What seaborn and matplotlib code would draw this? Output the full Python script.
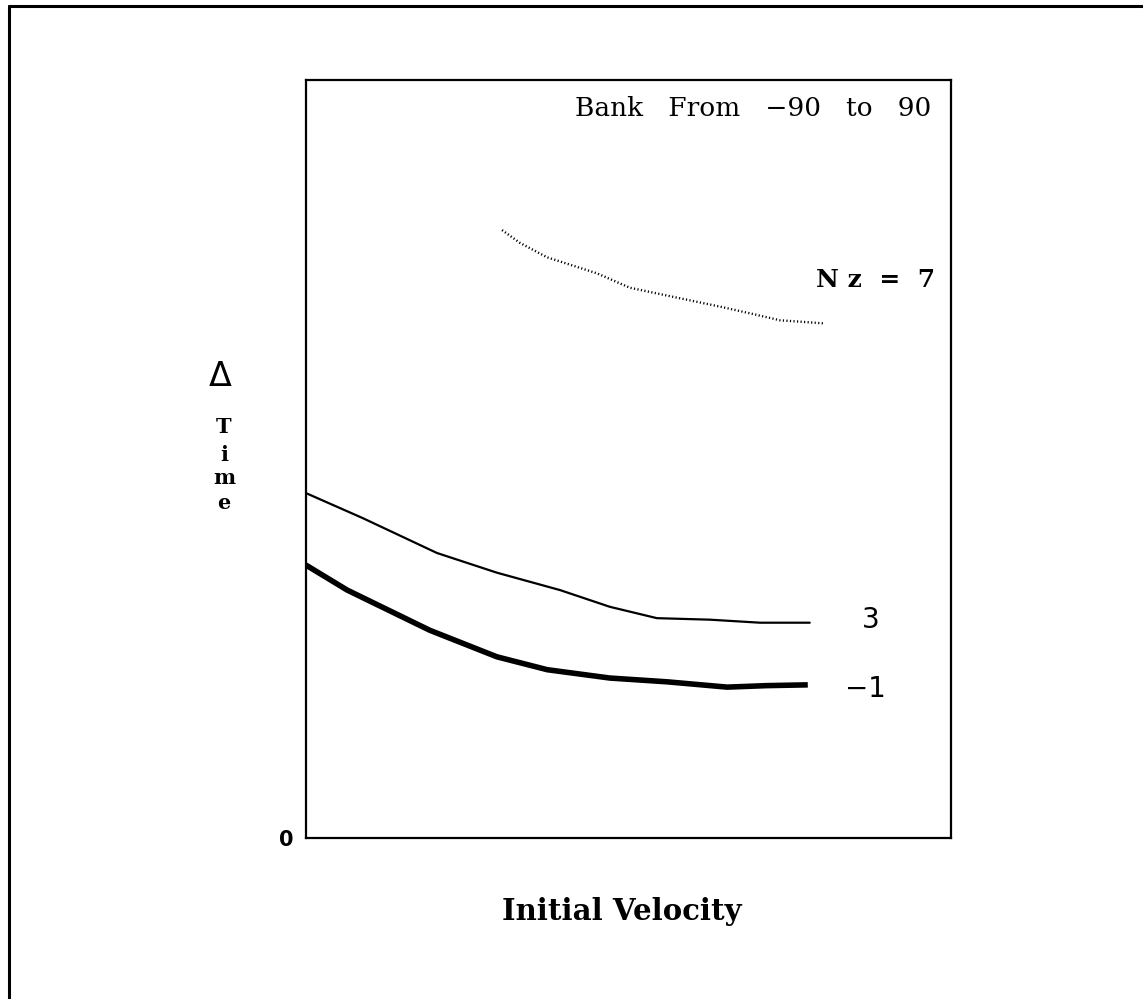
import matplotlib
matplotlib.use("Agg")
import matplotlib.pyplot as plt
from matplotlib.lines import Line2D
import pandas as pd
import seaborn as sns

# Delta-time vs. initial velocity for three normal-load factors (Nz)
vel_nz7 = [30.4, 33.2, 37.4, 45.1, 50.2, 58.0, 64.2, 68.4, 73.5, 80.2]
dt_nz7 = [80.2, 78.5, 76.6, 74.5, 72.6, 71.2, 70.1, 69.3, 68.3, 67.9]

vel_nz3 = [0.0, 8.8, 20.3, 29.6, 39.4, 47.1, 54.4, 62.6, 70.4, 78.1]
dt_nz3 = [45.5, 42.2, 37.6, 35.0, 32.7, 30.5, 29.0, 28.8, 28.4, 28.4]

vel_nzm1 = [0.0, 6.4, 19.2, 29.6, 37.4, 47.1, 56.0, 65.3, 71.5, 77.8]
dt_nzm1 = [36.0, 32.7, 27.4, 23.9, 22.2, 21.1, 20.6, 19.9, 20.1, 20.2]

series_labels = ["N z  =  7", "3", "\u22121"]

sns.set_style("white")
plt.rcParams["font.family"] = ["DejaVu Serif", "DejaVu Sans"]
plt.rcParams["text.color"] = "black"
plt.rcParams["ytick.color"] = "black"
plt.rcParams["xtick.color"] = "black"

fig = plt.figure(figsize=(11.43, 9.99), dpi=100)
ax = fig.add_axes([0.2677, 0.1612, 0.5643, 0.7587])

df7 = pd.DataFrame({"v": vel_nz7, "t": dt_nz7})
df3 = pd.DataFrame({"v": vel_nz3, "t": dt_nz3})
dfm1 = pd.DataFrame({"v": vel_nzm1, "t": dt_nzm1})

sns.lineplot(data=df7, x="v", y="t", ax=ax, color="black", lw=1.7,
             linestyle=(0, (0.5, 1.0)))
sns.lineplot(data=df3, x="v", y="t", ax=ax, color="black", lw=1.6)
sns.lineplot(data=dfm1, x="v", y="t", ax=ax, color="black", lw=4.0,
             solid_capstyle="butt")

ax.set_xlim(0, 100)
ax.set_ylim(0, 100)
ax.set_xlabel("")
ax.set_ylabel("")
ax.set_xticks([])
ax.set_yticks([0])
ax.set_yticklabels(["0"], fontsize=15, fontweight="bold", family="DejaVu Sans")
ax.tick_params(axis="y", length=0, pad=9)
for sp in ax.spines.values():
    sp.set_visible(True)
    sp.set_color("black")
    sp.set_linewidth(1.6)

W, H = 1143, 999

# Curve labels
ax.text(vel_nz7[-1] + 17.3, 73.6, series_labels[0], fontsize=18,
        fontweight="bold", ha="right", va="center")
ax.text(vel_nz3[-1] + 9.4, dt_nz3[-1] + 0.3, series_labels[1], fontsize=20,
        family="DejaVu Sans", ha="center", va="center")
ax.text(vel_nzm1[-1] + 9.0, dt_nzm1[-1] - 0.6, series_labels[2], fontsize=20,
        family="DejaVu Sans", ha="center", va="center")
ax.text(0.97, 0.963, "Bank   From   \u221290   to   90", transform=ax.transAxes,
        fontsize=19, ha="right", va="center")

# Axis titles
fig.text(502 / W, 1 - 912 / H, "Initial Velocity", fontsize=21,
         fontweight="bold", ha="left", va="center")
fig.text(220 / W, 1 - 376 / H, "\u0394", fontsize=24, family="DejaVu Sans",
         ha="center", va="center")
for ch, ypx in zip("Time", [427, 455, 478, 503]):
    fig.text(224 / W, 1 - ypx / H, ch, fontsize=15, fontweight="bold",
             ha="center", va="center")

# Page frame (top and left edges)
fig.add_artist(Line2D([9 / W, 9 / W], [0, 1 - 6 / H], transform=fig.transFigure,
                      color="black", lw=2.2))
fig.add_artist(Line2D([9 / W, 1], [1 - 6 / H, 1 - 6 / H], transform=fig.transFigure,
                      color="black", lw=2.2))

fig.savefig("out.png", dpi=100)
